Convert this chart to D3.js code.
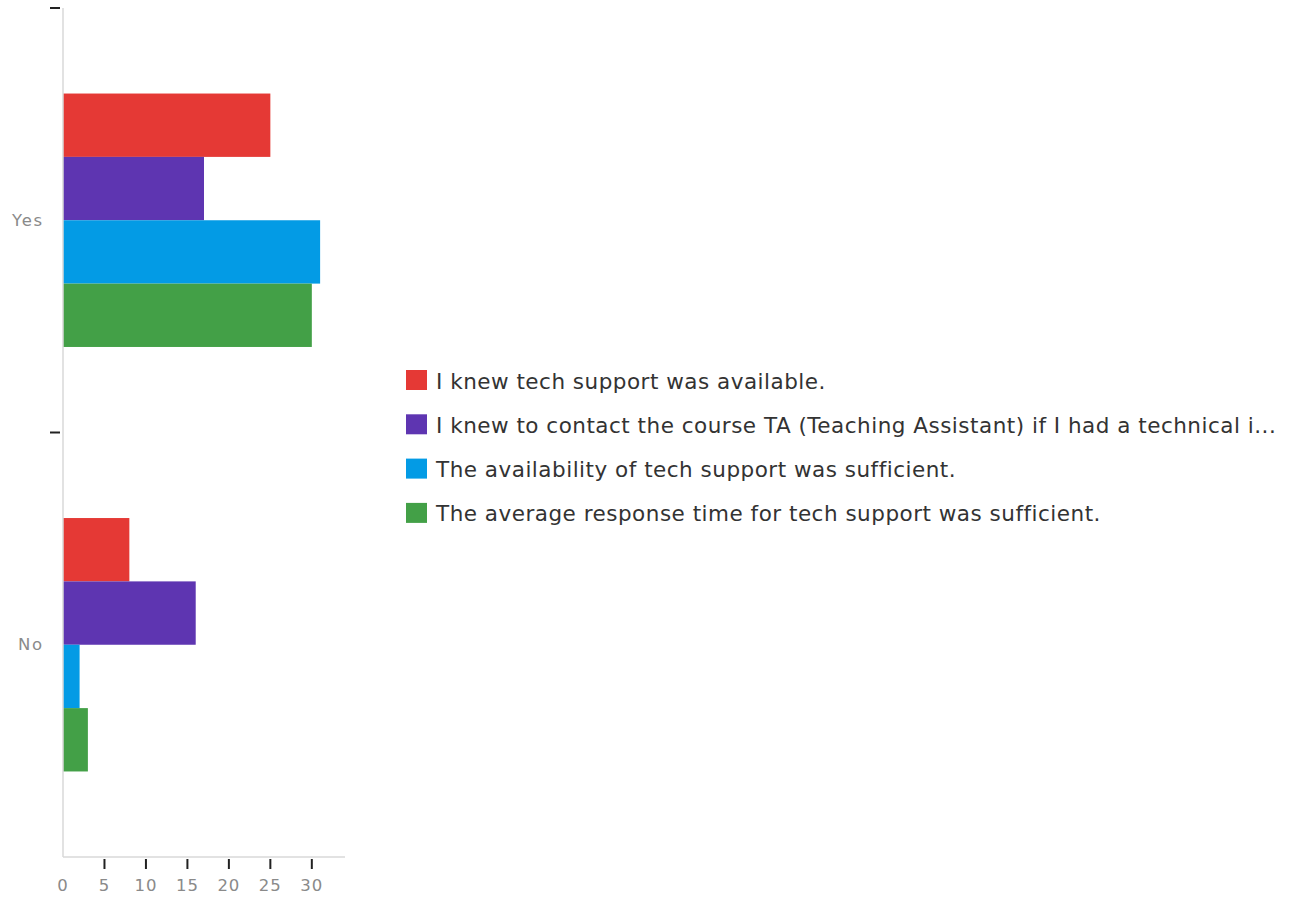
<!DOCTYPE html>
<html>
<head>
<meta charset="utf-8">
<script src="https://cdn.jsdelivr.net/npm/d3@7"></script>
<style>
  html, body { margin: 0; padding: 0; background: #fff; }
  svg { display: block; }
</style>
</head>
<body>
<svg id="chart" width="1295" height="898"></svg>
<script>
// Answer groups (rows) and the four survey statements (series)
const categories = ["Yes", "No"];
const seriesNames = [
  "I knew tech support was available.",
  "I knew to contact the course TA (Teaching Assistant) if I had a technical i...",
  "The availability of tech support was sufficient.",
  "The average response time for tech support was sufficient."
];
// Response counts per statement, in category order [Yes, No]
const knewAvailable   = [25, 8];
const knewContactTA   = [17, 16];
const availabilityOk  = [31, 2];
const responseTimeOk  = [30, 3];
const xTicks = [0, 5, 10, 15, 20, 25, 30];
const colors = ["#e53935", "#5e35b1", "#039be5", "#43a047"];

const seriesValues = [knewAvailable, knewContactTA, availabilityOk, responseTimeOk];

const svg = d3.select("#chart");
const H = 898;
const plotLeft = 63, plotTop = 8, plotRight = 345;
const plotBottom = H - 41; // 857

const x = d3.scaleLinear().domain([0, 34]).range([plotLeft, plotRight]);
const y = d3.scaleBand().domain(categories).range([plotTop, plotBottom]).paddingInner(0).paddingOuter(0);
const inner = d3.scaleBand().domain(d3.range(seriesNames.length))
  .range([0, y.bandwidth()]).paddingInner(0).paddingOuter(1.35);

const font = "'DejaVu Sans', sans-serif";

// Bars
const groups = svg.append("g").selectAll("g")
  .data(categories).join("g")
  .attr("transform", c => `translate(0,${y(c)})`);

groups.selectAll("rect")
  .data((c, ci) => seriesValues.map((vals, si) => ({ si, v: vals[ci] })))
  .join("rect")
  .attr("x", x(0))
  .attr("y", d => inner(d.si))
  .attr("width", d => x(d.v) - x(0))
  .attr("height", inner.bandwidth())
  .attr("fill", d => colors[d.si]);

// Axis lines
svg.append("line").attr("x1", x(0)).attr("x2", x(0)).attr("y1", plotTop).attr("y2", plotBottom)
  .attr("stroke", "#d9d9d9").attr("stroke-width", 1.5);
svg.append("line").attr("x1", x(0)).attr("x2", plotRight).attr("y1", plotBottom).attr("y2", plotBottom)
  .attr("stroke", "#d9d9d9").attr("stroke-width", 1.5);

// Y band boundary ticks
const bandEdges = categories.map(c => y(c));
svg.append("g").selectAll("line").data(bandEdges).join("line")
  .attr("x1", x(0) - 13).attr("x2", x(0) - 3)
  .attr("y1", d => d).attr("y2", d => d)
  .attr("stroke", "#222").attr("stroke-width", 2);

// Y labels
svg.append("g").selectAll("text").data(categories).join("text")
  .attr("x", x(0) - 19)
  .attr("y", c => y(c) + y.bandwidth() / 2)
  .attr("text-anchor", "end")
  .attr("dominant-baseline", "central")
  .attr("font-family", font).attr("font-size", 16.5).attr("letter-spacing", 1.8)
  .attr("fill", "#8a8a8a")
  .text(c => c);

// X ticks and labels
const xg = svg.append("g");
xg.selectAll("line").data(xTicks.filter(t => t > 0)).join("line")
  .attr("x1", d => x(d)).attr("x2", d => x(d))
  .attr("y1", plotBottom + 2).attr("y2", plotBottom + 12)
  .attr("stroke", "#222").attr("stroke-width", 2);
xg.selectAll("text").data(xTicks).join("text")
  .attr("x", d => x(d))
  .attr("y", plotBottom + 28)
  .attr("text-anchor", "middle")
  .attr("dominant-baseline", "central")
  .attr("font-family", font).attr("font-size", 16.5).attr("letter-spacing", 1)
  .attr("fill", "#8a8a8a")
  .text(d => d);

// Legend
const legend = svg.append("g").attr("transform", "translate(406,370)");
const rows = legend.selectAll("g").data(seriesNames).join("g")
  .attr("transform", (d, i) => `translate(0,${i * 44.3})`);
rows.append("rect").attr("width", 21).attr("height", 20)
  .attr("fill", (d, i) => colors[i]);
rows.append("text").attr("x", 30).attr("y", 11)
  .attr("dominant-baseline", "central")
  .attr("font-family", font).attr("font-size", 21.5).attr("letter-spacing", 0.5)
  .attr("fill", "#333")
  .text(d => d);
</script>
</body>
</html>
